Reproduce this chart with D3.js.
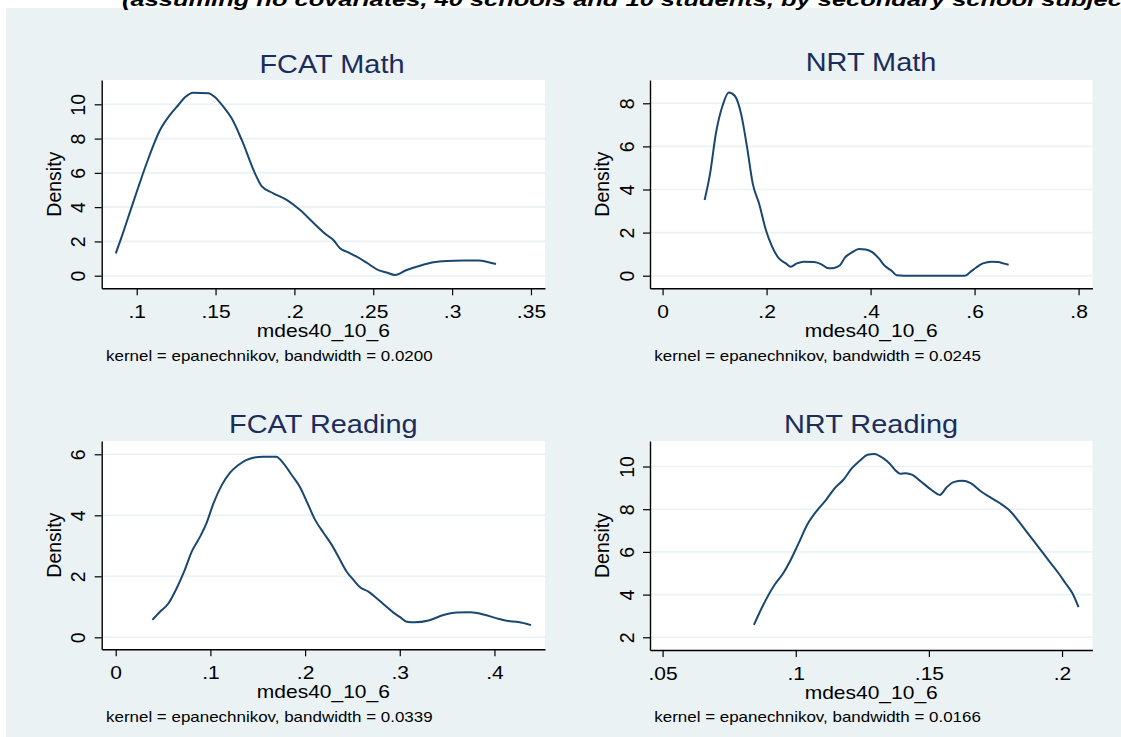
<!DOCTYPE html>
<html>
<head>
<meta charset="utf-8">
<script src="https://cdn.jsdelivr.net/npm/d3@7"></script>
<style>
  body { margin: 0; background: #fff; }
  svg { display: block; }
</style>
</head>
<body>
<script>
// headline that is cut off at the top of the picture
var headline = "(assuming no covariates, 40 schools and 10 students, by secondary school subject)";

var panelTitles = ["FCAT Math", "NRT Math", "FCAT Reading", "NRT Reading"];
var xTitle = "mdes40_10_6";
var bandwidths = ["0.0200", "0.0245", "0.0339", "0.0166"];

// FCAT Math density
var fcatMathX = [.0867, .0905, .0958, .1011, .1063, .1148, .1211, .1264, .1306, .1359, .1454, .1497, .1549, .1602, .1666, .1750, .1792, .1866, .1951, .2036, .2120, .2205, .2247, .2289, .2342, .2395, .2458, .2532, .2585, .2638, .2712, .2796, .2881, .2965, .3071, .3166, .3219, .3278];
var fcatMathY = [1.30, 2.28, 3.74, 5.19, 6.56, 8.50, 9.38, 9.96, 10.41, 10.68, 10.64, 10.41, 9.86, 9.18, 7.92, 5.97, 5.23, 4.81, 4.42, 3.83, 3.09, 2.37, 2.08, 1.60, 1.36, 1.11, 0.76, 0.33, 0.19, 0.04, 0.33, 0.58, 0.78, 0.86, 0.89, 0.88, 0.82, 0.68];
var fcatMathXTicks = [.1, .15, .2, .25, .3, .35];
var fcatMathYTicks = [0, 2, 4, 6, 8, 10];

// NRT Math density
var nrtMathX = [.0808, .0914, .1026, .1159, .1272, .1391, .1510, .1623, .1735, .1854, .1987, .2106, .2238, .2371, .2464, .2583, .2715, .2914, .3046, .3192, .3298, .3411, .3510, .3642, .3775, .3907, .4040, .4159, .4272, .4404, .4503, .4636, .5033, .5430, .5815, .5927, .6026, .6159, .6325, .6457, .6556, .6656];
var nrtMathY = [3.51, 4.75, 6.61, 7.93, 8.50, 8.34, 7.51, 5.99, 4.26, 3.36, 2.12, 1.35, 0.80, 0.57, 0.42, 0.57, 0.65, 0.63, 0.54, 0.34, 0.36, 0.48, 0.85, 1.08, 1.24, 1.22, 1.08, 0.80, 0.46, 0.23, 0.02, 0, 0, 0, 0, 0.19, 0.37, 0.57, 0.65, 0.63, 0.57, 0.51];
var nrtMathXTicks = [0, .2, .4, .6, .8];
var nrtMathYTicks = [0, 2, 4, 6, 8];

// FCAT Reading density
var fcatReadX = [.0387, .0468, .0556, .0644, .0722, .0803, .0891, .0961, .1032, .1120, .1208, .1296, .1377, .1454, .1560, .1694, .1778, .1859, .1947, .2018, .2106, .2194, .2282, .2352, .2440, .2511, .2581, .2669, .2757, .2845, .2933, .3004, .3074, .3162, .3303, .3461, .3602, .3743, .3884, .4025, .4130, .4254, .4387];
var fcatReadY = [0.57, 0.84, 1.11, 1.61, 2.15, 2.81, 3.30, 3.76, 4.39, 4.99, 5.40, 5.65, 5.81, 5.89, 5.92, 5.92, 5.68, 5.32, 4.92, 4.45, 3.85, 3.43, 3.03, 2.64, 2.15, 1.88, 1.64, 1.50, 1.28, 1.04, 0.81, 0.66, 0.51, 0.49, 0.55, 0.73, 0.81, 0.82, 0.75, 0.62, 0.54, 0.50, 0.40];
var fcatReadXTicks = [0, .1, .2, .3, .4];
var fcatReadYTicks = [0, 2, 4, 6];

// NRT Reading density
var nrtReadX = [.0843, .0875, .0920, .0953, .0978, .1011, .1043, .1082, .1114, .1146, .1179, .1211, .1244, .1269, .1295, .1328, .1353, .1373, .1392, .1412, .1438, .1470, .1509, .1541, .1567, .1593, .1625, .1657, .1696, .1735, .1767, .1800, .1838, .1871, .1910, .1948, .1987, .2013, .2039, .2062];
var nrtReadY = [2.58, 3.44, 4.45, 5.00, 5.55, 6.41, 7.27, 7.97, 8.44, 8.98, 9.38, 9.92, 10.31, 10.55, 10.59, 10.39, 10.13, 9.84, 9.66, 9.69, 9.61, 9.30, 8.91, 8.67, 9.03, 9.27, 9.33, 9.22, 8.83, 8.52, 8.28, 7.97, 7.42, 6.88, 6.25, 5.63, 5.00, 4.53, 4.06, 3.41];
var nrtReadXTicks = [.05, .1, .15, .2];
var nrtReadYTicks = [2, 4, 6, 8, 10];

var W = 1121, H = 737;
var FONT = "'Liberation Sans', Arial, sans-serif";
var SX = 1.13; // the original picture is a bit wider than tall

var panels = [
  { title: panelTitles[0], xs: fcatMathX, ys: fcatMathY, xt: fcatMathXTicks, yt: fcatMathYTicks, bw: bandwidths[0],
    left: 101.7, right: 545, top: 80, bottom: 288.3, xd: [0.0778, 0.3589], yd: [-0.735, 11.418],
    titleX: 332, titleY: 73 },
  { title: panelTitles[1], xs: nrtMathX, ys: nrtMathY, xt: nrtMathXTicks, yt: nrtMathYTicks, bw: bandwidths[1],
    left: 650, right: 1092.4, top: 80, bottom: 288.3, xd: [-0.0242, 0.8266], yd: [-0.585, 9.081],
    titleX: 871, titleY: 71 },
  { title: panelTitles[2], xs: fcatReadX, ys: fcatReadY, xt: fcatReadXTicks, yt: fcatReadYTicks, bw: bandwidths[2],
    left: 101.7, right: 545, top: 441, bottom: 649.3, xd: [-0.0148, 0.4534], yd: [-0.393, 6.436],
    titleX: 323.3, titleY: 433 },
  { title: panelTitles[3], xs: nrtReadX, ys: nrtReadY, xt: nrtReadXTicks, yt: nrtReadYTicks, bw: bandwidths[3],
    left: 650, right: 1092.4, top: 441, bottom: 650, xd: [0.04527, 0.2114], yd: [1.4045, 11.195],
    titleX: 871, titleY: 433 }
];

var svg = d3.select("body").append("svg").attr("width", W).attr("height", H);

svg.append("rect").attr("width", W).attr("height", H).attr("fill", "#fff");
svg.append("rect").attr("x", 6).attr("y", 8).attr("width", W - 6).attr("height", H - 8).attr("fill", "#eaf2f3");

function stretchText(g, x, y, str, size, anchor, color) {
  return g.append("text")
    .attr("transform", "translate(" + x + "," + y + ") scale(" + SX + ",1)")
    .attr("text-anchor", anchor)
    .attr("font-family", FONT)
    .attr("font-size", size)
    .attr("fill", color || "#000")
    .text(str);
}

function fmt(d) {
  return d === 0 ? "0" : String(d).replace(/^0\./, ".");
}

panels.forEach(function (p) {
  var g = svg.append("g");
  var x = d3.scaleLinear().domain(p.xd).range([p.left, p.right]);
  var y = d3.scaleLinear().domain(p.yd).range([p.bottom, p.top]);

  g.append("rect")
    .attr("x", p.left).attr("y", p.top)
    .attr("width", p.right - p.left).attr("height", p.bottom - p.top)
    .attr("fill", "#fff");

  // horizontal grid
  g.selectAll(".grid").data(p.yt).enter().append("line")
    .attr("x1", p.left).attr("x2", p.right)
    .attr("y1", function (d) { return y(d); })
    .attr("y2", function (d) { return y(d); })
    .attr("stroke", "#eaf2f3").attr("stroke-width", 1.6);

  var pts = p.xs.map(function (v, i) { return [v, p.ys[i]]; });
  var line = d3.line()
    .x(function (d) { return x(d[0]); })
    .y(function (d) { return y(d[1]); })
    .curve(d3.curveMonotoneX);
  g.append("path").datum(pts)
    .attr("d", line)
    .attr("fill", "none")
    .attr("stroke", "#1a476f")
    .attr("stroke-width", 2)
    .attr("stroke-linejoin", "round");

  // x axis
  var xa = g.append("g").attr("transform", "translate(0," + p.bottom + ")")
    .call(d3.axisBottom(x).tickValues(p.xt).tickSize(7).tickSizeOuter(0).tickFormat(fmt));
  xa.select(".domain").attr("stroke", "#000").attr("stroke-width", 1.4);
  xa.selectAll(".tick line").attr("stroke", "#000").attr("stroke-width", 1.2);
  xa.selectAll(".tick text")
    .attr("y", 30).attr("dy", 0)
    .attr("transform", "scale(" + SX + ",1)")
    .attr("font-family", FONT).attr("font-size", 18.6).attr("fill", "#000");

  // y axis
  var ya = g.append("g").attr("transform", "translate(" + p.left + ",0)")
    .call(d3.axisLeft(y).tickValues(p.yt).tickSize(7).tickSizeOuter(0).tickFormat(fmt));
  ya.select(".domain").attr("stroke", "#000").attr("stroke-width", 1.4);
  ya.selectAll(".tick line").attr("stroke", "#000").attr("stroke-width", 1.2);
  ya.selectAll(".tick text")
    .attr("x", 0).attr("y", -16.5).attr("dy", 0)
    .attr("transform", "rotate(-90)")
    .attr("text-anchor", "middle")
    .attr("font-family", FONT).attr("font-size", 19.5).attr("fill", "#000");

  // Density label
  g.append("text")
    .attr("transform", "translate(" + (p.left - 41) + "," + ((p.top + p.bottom) / 2) + ") rotate(-90)")
    .attr("text-anchor", "middle")
    .attr("font-family", FONT).attr("font-size", 19.5).attr("fill", "#000")
    .text("Density");

  stretchText(g, p.titleX, p.titleY, p.title, 25.6, "middle", "#1c2d5c");
  stretchText(g, (p.left + p.right) / 2, p.bottom + 48.5, xTitle, 18.6, "middle");
  stretchText(g, p.left + 4.3, p.bottom + 72.4, "kernel = epanechnikov, bandwidth = " + p.bw, 15, "start");
});

// headline runs past the right edge, as in the source picture
svg.append("text")
  .attr("transform", "translate(122,6) scale(1.34,1)")
  .attr("font-family", FONT).attr("font-size", 19)
  .attr("font-weight", "bold").attr("font-style", "italic")
  .attr("fill", "#000")
  .text(headline);
</script>
</body>
</html>
